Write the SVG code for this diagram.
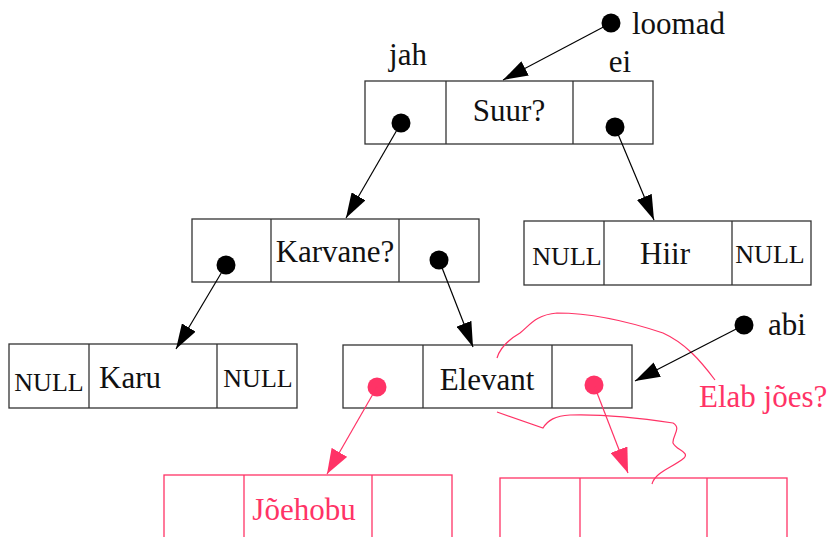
<svg xmlns="http://www.w3.org/2000/svg" width="832" height="537" viewBox="0 0 832 537">
<style>
.box{fill:none;stroke:#333;stroke-width:1.3}
.pbox{fill:none;stroke:#ff3366;stroke-width:1.3}
.t{font-family:"Liberation Serif",serif;font-size:31px;fill:#111}
.n{font-family:"Liberation Serif",serif;font-size:26px;fill:#111}
.pt{font-family:"Liberation Serif",serif;font-size:31px;fill:#ff3366}
.dot{fill:#000}
.pdot{fill:#ff3366}
.ln{stroke:#000;stroke-width:1.2;fill:none}
.pln{stroke:#ff3366;stroke-width:1.2;fill:none}
</style>
<defs>
<marker id="ah" markerUnits="userSpaceOnUse" markerWidth="26" markerHeight="16" refX="25" refY="8" orient="auto"><path d="M0,0 L25,8 L0,16 z" fill="#000"/></marker>
<marker id="pah" markerUnits="userSpaceOnUse" markerWidth="26" markerHeight="18" refX="25" refY="9" orient="auto"><path d="M0,0 L25,9 L0,18 z" fill="#ff3366"/></marker>
</defs>
<rect width="832" height="537" fill="#fff"/>
<g id="loomad"><circle class="dot" cx="611" cy="23" r="9.5"/><text class="t" x="632" y="34">loomad</text></g>
<g id="suur">
<rect class="box" x="365" y="81" width="288" height="63"/>
<line class="box" x1="446" y1="81" x2="446" y2="144"/><line class="box" x1="573" y1="81" x2="573" y2="144"/>
<text class="t" x="509" y="121" text-anchor="middle">Suur?</text>
<circle class="dot" cx="401" cy="123" r="9.5"/><circle class="dot" cx="615" cy="127" r="9.5"/>
<text class="t" x="408" y="65" text-anchor="middle">jah</text>
<text class="t" x="620" y="72" text-anchor="middle">ei</text>
</g>
<g id="karvane">
<rect class="box" x="192" y="219" width="287" height="63"/>
<line class="box" x1="271" y1="219" x2="271" y2="282"/><line class="box" x1="399" y1="219" x2="399" y2="282"/>
<text class="t" x="335" y="262" text-anchor="middle">Karvane?</text>
<circle class="dot" cx="226" cy="265" r="9.5"/><circle class="dot" cx="439" cy="260" r="9.5"/>
</g>
<g id="hiir">
<rect class="box" x="524" y="221" width="287" height="64"/>
<line class="box" x1="604" y1="221" x2="604" y2="285"/><line class="box" x1="732" y1="221" x2="732" y2="285"/>
<text class="n" x="567" y="265" text-anchor="middle">NULL</text>
<text class="t" x="665" y="264" text-anchor="middle">Hiir</text>
<text class="n" x="770" y="263" text-anchor="middle">NULL</text>
</g>
<g id="karu">
<rect class="box" x="9" y="344" width="288" height="64"/>
<line class="box" x1="89" y1="344" x2="89" y2="408"/><line class="box" x1="217" y1="344" x2="217" y2="408"/>
<text class="n" x="49" y="391" text-anchor="middle">NULL</text>
<text class="t" x="99" y="388">Karu</text>
<text class="n" x="258" y="387" text-anchor="middle">NULL</text>
</g>
<g id="elevant">
<rect class="box" x="343" y="345" width="289" height="63"/>
<line class="box" x1="423" y1="345" x2="423" y2="408"/><line class="box" x1="552" y1="345" x2="552" y2="408"/>
<text class="t" x="487" y="390" text-anchor="middle">Elevant</text>
<circle class="pdot" cx="377" cy="387" r="9.5"/><circle class="pdot" cx="594" cy="385" r="9.5"/>
</g>
<g id="abi"><circle class="dot" cx="744" cy="325" r="9.5"/><text class="t" x="768" y="335">abi</text></g>
<g id="jõehobu">
<rect class="pbox" x="164" y="475" width="288" height="70"/>
<line class="pbox" x1="244" y1="475" x2="244" y2="545"/><line class="pbox" x1="372" y1="475" x2="372" y2="545"/>
<text class="pt" x="304" y="520" text-anchor="middle">Jõehobu</text>
</g>
<g id="uus">
<rect class="pbox" x="500" y="478" width="287" height="70"/>
<line class="pbox" x1="580" y1="478" x2="580" y2="548"/><line class="pbox" x1="707" y1="478" x2="707" y2="548"/>
</g>
<g id="elab">
<text class="pt" x="699" y="407">Elab jões?</text>
<path class="pln" d="M497,358 C500,348 508,340 520,333 C530,325 535,315 557,313 C590,313 630,322 663,333 C685,343 700,360 715,380"/>
<path class="pln" d="M497,412 L543,428 C548,420 555,416 570,415 C600,414 640,418 673,423 C682,428 672,436 673,443 C676,450 690,452 684,458 C672,468 655,472 652,484"/>
</g>
<g id="connectors">
<line class="ln" x1="611" y1="23" x2="503" y2="80" marker-end="url(#ah)"/>
<line class="ln" x1="401" y1="123" x2="346" y2="218" marker-end="url(#ah)"/>
<line class="ln" x1="615" y1="127" x2="654" y2="220" marker-end="url(#ah)"/>
<line class="ln" x1="226" y1="265" x2="176" y2="349" marker-end="url(#ah)"/>
<line class="ln" x1="439" y1="260" x2="473" y2="347" marker-end="url(#ah)"/>
<line class="ln" x1="744" y1="325" x2="635" y2="381" marker-end="url(#ah)"/>
<line class="pln" x1="377" y1="387" x2="327" y2="474" marker-end="url(#pah)"/>
<line class="pln" x1="594" y1="385" x2="628" y2="473" marker-end="url(#pah)"/>
</g>
</svg>
